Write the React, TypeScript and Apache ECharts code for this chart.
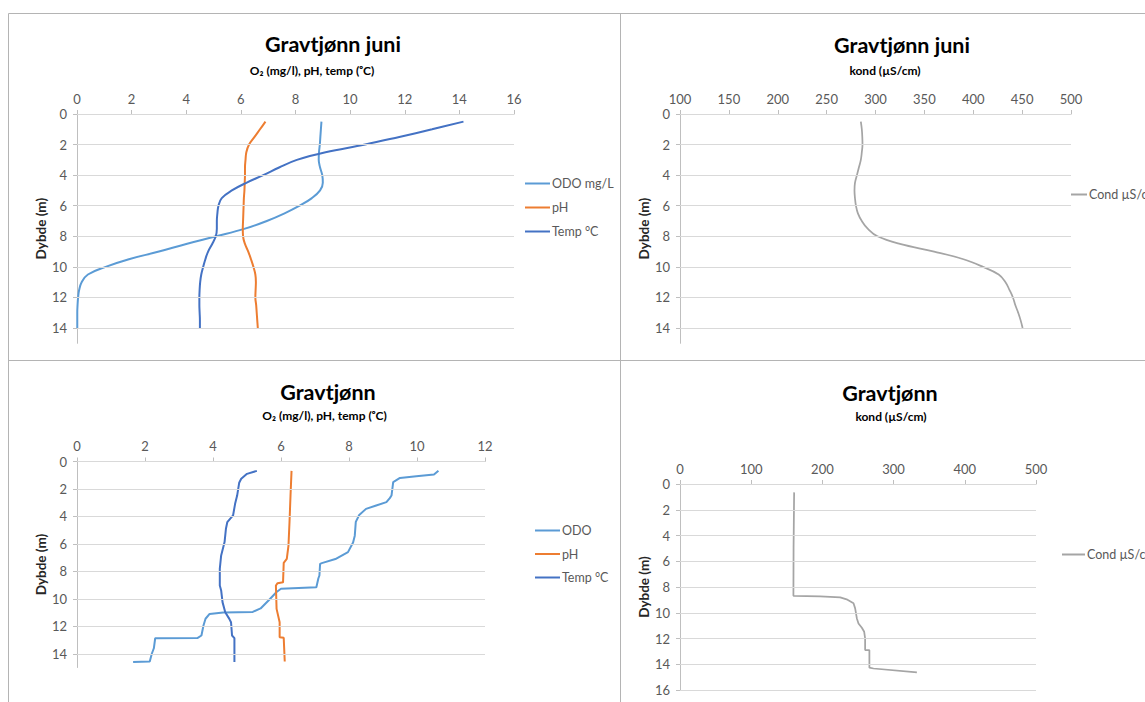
import React, { useEffect, useRef } from "react";
import * as echarts from "echarts";

// ---- Gravtjønn, June profile (smoothed) ----
const juniDepth = [0.5, 1, 1.5, 2, 2.5, 3, 3.5, 4, 4.5, 5, 5.5, 6, 6.5, 7, 7.5, 8, 8.5, 9, 9.5, 10, 10.5, 11, 11.5, 12, 12.5, 13, 13.5, 14];
const juniOdo = [8.95, 8.93, 8.91, 8.89, 8.86, 8.85, 8.9, 8.98, 9.0, 8.9, 8.6, 8.15, 7.6, 6.95, 6.15, 5.1, 4.0, 3.0, 1.9, 1.05, 0.4, 0.17, 0.08, 0.04, 0.02, 0.01, 0.01, 0.01];
const juniPh = [6.9, 6.7, 6.5, 6.3, 6.2, 6.17, 6.15, 6.15, 6.14, 6.13, 6.11, 6.1, 6.09, 6.08, 6.07, 6.08, 6.15, 6.27, 6.37, 6.46, 6.53, 6.55, 6.54, 6.53, 6.56, 6.58, 6.6, 6.62];
const juniTemp = [14.15, 13.0, 11.8, 10.55, 9.1, 8.05, 7.4, 6.82, 6.2, 5.67, 5.3, 5.18, 5.14, 5.12, 5.12, 5.08, 4.95, 4.8, 4.7, 4.62, 4.55, 4.51, 4.49, 4.48, 4.48, 4.49, 4.5, 4.5];
const juniCond = [285, 286, 286.5, 286.7, 286, 285, 283, 281, 279, 278.5, 279, 280, 282, 286, 292, 302, 325, 360, 390, 410, 426, 433, 437, 440.6, 443, 446, 448.5, 450.5];

// ---- Gravtjønn, later profile (raw sonde readings) ----
const odoDepth = [0.68, 0.95, 1.07, 1.2, 1.5, 2.48, 2.67, 2.96, 3.2, 3.45, 3.9, 4.4, 5.4, 5.9, 6.6, 7.1, 7.4, 7.45, 8.3, 8.5, 9.15, 9.27, 9.5, 10.1, 10.7, 10.95, 11.0, 11.1, 11.45, 11.94, 12.67, 12.86, 12.87, 13.6, 14.0, 14.56, 14.6];
const odoValue = [10.63, 10.5, 9.98, 9.5, 9.3, 9.25, 9.2, 9.1, 8.8, 8.5, 8.3, 8.2, 8.17, 8.12, 7.97, 7.6, 7.2, 7.15, 7.13, 7.1, 7.04, 6.0, 5.87, 5.64, 5.4, 5.17, 4.3, 3.9, 3.78, 3.72, 3.66, 3.54, 2.3, 2.26, 2.2, 2.14, 1.65];
const phDepth = [0.68, 2.48, 4.42, 6.12, 7.09, 7.38, 8.8, 8.86, 9.03, 10.73, 11.7, 12.8, 12.84, 14.56];
const phValue = [6.31, 6.28, 6.25, 6.22, 6.17, 6.08, 6.06, 5.9, 5.85, 5.87, 5.96, 5.96, 6.08, 6.11];
const tempDepth = [0.68, 0.9, 1.26, 1.55, 2.48, 3.08, 3.93, 4.42, 4.9, 5.87, 6.84, 7.8, 9.03, 9.39, 10.24, 10.97, 11.46, 11.7, 12.67, 12.86, 14.6];
const tempValue = [5.29, 5.0, 4.83, 4.77, 4.71, 4.65, 4.59, 4.42, 4.38, 4.34, 4.24, 4.2, 4.2, 4.24, 4.28, 4.36, 4.48, 4.53, 4.56, 4.63, 4.63];
const condDepth = [0.65, 5.0, 8.68, 8.72, 8.8, 8.96, 9.27, 9.66, 10.44, 10.83, 11.17, 11.48, 12.0, 12.9, 12.91, 14.27, 14.33, 14.64];
const condValue = [160.3, 159.5, 159.3, 196.8, 225, 234, 243.7, 246, 248.4, 250.7, 255.4, 258.7, 260, 260, 266, 266, 271.8, 332.7];

// ---- Axis ticks ----
const depthTicks15 = [0, 2, 4, 6, 8, 10, 12, 14];
const depthTicks16 = [0, 2, 4, 6, 8, 10, 12, 14, 16];

const FONT = "Lato, 'Open Sans', sans-serif";
const C_ODO = "#5B9BD5";
const C_PH = "#ED7D31";
const C_TEMP = "#4472C4";
const C_COND = "#A5A5A5";
const GRID_LINE = "#D9D9D9";
const AXIS_LINE = "#BFBFBF";
const LABEL = "#595959";

const pairs = (xs: number[], ys: number[]) => xs.map((x, i) => [x, ys[i]]);

function xAxis(gridIndex: number, min: number, max: number, interval: number) {
  return {
    type: "value",
    gridIndex,
    position: "top",
    min,
    max,
    interval,
    axisLine: { show: true, lineStyle: { color: AXIS_LINE, width: 1 } },
    axisTick: { show: true, length: 4, lineStyle: { color: AXIS_LINE } },
    axisLabel: { color: LABEL, fontSize: 13, fontFamily: FONT, margin: 9 },
    splitLine: { show: false },
  };
}

function yAxis(gridIndex: number, max: number) {
  return {
    type: "value",
    gridIndex,
    inverse: true,
    min: 0,
    max,
    interval: 2,
    name: "Dybde (m)",
    nameLocation: "middle",
    nameGap: 29,
    nameTextStyle: { fontWeight: "bold", fontSize: 13.5, color: "#262626", fontFamily: FONT },
    axisLine: { show: true, onZero: false, lineStyle: { color: AXIS_LINE, width: 1 } },
    axisTick: { show: true, length: 4, lineStyle: { color: AXIS_LINE } },
    axisLabel: { color: LABEL, fontSize: 13, fontFamily: FONT, margin: 10, showMaxLabel: max % 2 === 0 },
    splitLine: { show: false },
  };
}

// Horizontal depth grid lines, drawn behind the profile lines
function gridSeries(idx: number, xMin: number, ticks: number[]) {
  return {
    type: "line",
    name: "_grid" + idx,
    xAxisIndex: idx,
    yAxisIndex: idx,
    data: [[xMin, 0]],
    showSymbol: false,
    lineStyle: { opacity: 0 },
    silent: true,
    z: 1,
    markLine: {
      silent: true,
      symbol: "none",
      label: { show: false },
      lineStyle: { color: GRID_LINE, width: 1, type: "solid" },
      data: ticks.map((v) => ({ yAxis: v })),
    },
  };
}

function profile(name: string, idx: number, data: number[][], color: string, width: number, smooth: boolean) {
  return {
    type: "line",
    name,
    xAxisIndex: idx,
    yAxisIndex: idx,
    data,
    showSymbol: false,
    symbol: "none",
    smooth: smooth ? 0.4 : false,
    lineStyle: { color, width },
    itemStyle: { color },
    z: 3,
  };
}

function legend(left: number, top: number, names: string[], itemWidth: number, gap: number) {
  return {
    orient: "vertical",
    left,
    top,
    padding: 0,
    icon: "rect",
    itemWidth,
    itemHeight: 2,
    itemGap: gap,
    selectedMode: false,
    textStyle: { color: LABEL, fontSize: 12.5, fontFamily: FONT, padding: [0, 0, 0, -3] },
    data: names,
  };
}

function heading(x: number, y: number, text: string, size: number) {
  return {
    type: "text",
    style: {
      x,
      y,
      text,
      fill: "#000",
      font: `bold ${size}px ${FONT}`,
      textAlign: "center",
      textVerticalAlign: "middle",
    },
  };
}

function border(x1: number, y1: number, x2: number, y2: number) {
  return {
    type: "line",
    shape: { x1, y1, x2, y2 },
    style: { stroke: "#B4B4B4", lineWidth: 1 },
    silent: true,
  };
}

export default function App() {
  const ref = useRef<HTMLDivElement>(null);

  useEffect(() => {
    if (!ref.current) return;
    const chart = echarts.init(ref.current, undefined, { renderer: "svg" });
    const subO2 = "O₂ (mg/l), pH, temp (ᵒC)";
    const subCond = "kond (µS/cm)";
    chart.setOption({
      animation: false,
      backgroundColor: "#fff",
      textStyle: { fontFamily: FONT },
      grid: [
        { left: 77, top: 114, width: 437, height: 229.3 },
        { left: 680, top: 114, width: 391, height: 229.3 },
        { left: 77, top: 461.5, width: 408, height: 206 },
        { left: 680, top: 484, width: 356, height: 206 },
      ],
      xAxis: [xAxis(0, 0, 16, 2), xAxis(1, 100, 500, 50), xAxis(2, 0, 12, 2), xAxis(3, 0, 500, 100)],
      yAxis: [yAxis(0, 15), yAxis(1, 15), yAxis(2, 15), yAxis(3, 16)],
      legend: [
        legend(525, 177, ["ODO mg/L", "pH", "Temp °C"], 25, 11),
        legend(1071, 188, ["Cond µS/cm"], 16, 10),
        legend(535, 524, ["ODO", "pH", "Temp °C"], 25, 10.5),
        legend(1062, 548, ["Cond µS/cm"], 23, 10),
      ],
      series: [
        gridSeries(0, 0, depthTicks15),
        gridSeries(1, 100, depthTicks15),
        gridSeries(2, 0, depthTicks15),
        gridSeries(3, 0, depthTicks16),
        profile("ODO mg/L", 0, pairs(juniOdo, juniDepth), C_ODO, 2, true),
        profile("pH", 0, pairs(juniPh, juniDepth), C_PH, 2, true),
        profile("Temp °C", 0, pairs(juniTemp, juniDepth), C_TEMP, 2, true),
        profile("Cond µS/cm", 1, pairs(juniCond, juniDepth), C_COND, 1.75, true),
        profile("ODO", 2, pairs(odoValue, odoDepth), C_ODO, 2, false),
        profile("pH", 2, pairs(phValue, phDepth), C_PH, 2, false),
        profile("Temp °C", 2, pairs(tempValue, tempDepth), C_TEMP, 2, false),
        profile("Cond µS/cm", 3, pairs(condValue, condDepth), C_COND, 1.75, false),
      ],
      graphic: [
        border(8.5, 13.5, 1145, 13.5),
        border(8.5, 13.5, 8.5, 702),
        border(620.5, 13.5, 620.5, 702),
        border(8.5, 360.5, 1145, 360.5),
        heading(333, 44, "Gravtjønn juni", 21.5),
        heading(312, 70, subO2, 12),
        heading(902, 45, "Gravtjønn juni", 21.5),
        heading(885, 70.5, subCond, 12),
        heading(328, 391.5, "Gravtjønn", 21.5),
        heading(324.5, 415.5, subO2, 12),
        heading(890, 392.5, "Gravtjønn", 21.5),
        heading(891, 416.5, subCond, 12),
      ],
    });
    return () => chart.dispose();
  }, []);

  return (
    <div
      ref={ref}
      style={{ position: "fixed", left: 0, top: 0, width: 1145, height: 702, background: "#fff" }}
    />
  );
}
